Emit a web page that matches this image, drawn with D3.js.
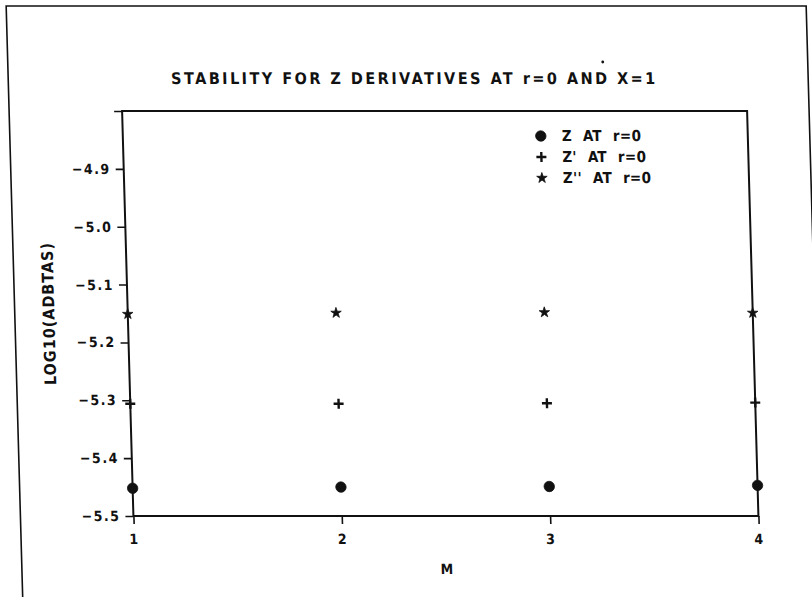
<!DOCTYPE html>
<html>
<head>
<meta charset="utf-8">
<script src="https://cdn.jsdelivr.net/npm/d3@7"></script>
<style>
  body { margin: 0; background: #fff; }
  svg { display: block; }
  text { font-family: "Liberation Sans Narrow", "DejaVu Sans Condensed", "Liberation Sans", sans-serif; fill: #111; }
</style>
</head>
<body>
<div id="vis"></div>
<script>
// data
var mValues = [1, 2, 3, 4];
var zAt0 = [-5.452, -5.450, -5.449, -5.447];
var zpAt0 = [-5.306, -5.306, -5.305, -5.304];
var zppAt0 = [-5.151, -5.149, -5.148, -5.149];

var seriesNames = ["Z AT r=0", "Z' AT r=0", "Z'' AT r=0"];
var seriesTypes = ["circle", "plus", "star"];
var yTicks = [-4.8, -4.9, -5.0, -5.1, -5.2, -5.3, -5.4, -5.5];
var xTicks = [1, 2, 3, 4];

var width = 812;
var height = 597;
// plot box (before the scan skew is applied)
var margin = { top: 111, left: 119, bottom: 81, right: 68 };

var svg = d3.select('#vis').append('svg')
    .attr('width', width)
    .attr('height', height);

// the scanned page leans a little, so shear everything
var g = svg.append('g')
    .attr('transform', 'skewX(1.6)');

var x = d3.scaleLinear()
    .domain([1, 4])
    .range([margin.left, width - margin.right]);

var y = d3.scaleLinear()
    .domain([-5.5, -4.8])
    .range([height - margin.bottom, margin.top]);

// outer page frame
g.append('path')
    .attr('d', 'M6,640V6H806V640')
    .attr('fill', 'none')
    .attr('stroke', '#111')
    .attr('stroke-width', 1.6);

// stray speck on the scan
g.append('circle')
    .attr('cx', 601)
    .attr('cy', 62)
    .attr('r', 1.4)
    .attr('fill', '#111');

// title
g.append('text')
    .attr('x', 411)
    .attr('y', 84)
    .attr('text-anchor', 'middle')
    .attr('textLength', 484)
    .attr('lengthAdjust', 'spacing')
    .style('font-size', '16px')
    .style('font-weight', 'bold')
    .text('STABILITY FOR Z DERIVATIVES AT r=0 AND X=1');

// plot box
g.append('rect')
    .attr('x', x(1))
    .attr('y', y(-4.8))
    .attr('width', x(4) - x(1))
    .attr('height', y(-5.5) - y(-4.8))
    .attr('fill', 'none')
    .attr('stroke', '#111')
    .attr('stroke-width', 2);

var fmt = function (d) {
    if (d === -4.8) return '';
    return d3.format('.1f')(d).replace('-', '\u2212');
};

var yAxis = g.append('g')
    .attr('class', 'y axis')
    .attr('transform', 'translate(' + x(1) + ',0)')
    .call(d3.axisLeft(y).tickValues(yTicks).tickFormat(fmt).tickSize(8).tickPadding(5));

var xAxis = g.append('g')
    .attr('class', 'x axis')
    .attr('transform', 'translate(0,' + y(-5.5) + ')')
    .call(d3.axisBottom(x).tickValues(xTicks).tickFormat(d3.format('d')).tickSize(8).tickPadding(10));

g.selectAll('.axis .domain').remove();
g.selectAll('.axis line')
    .attr('stroke', '#111')
    .attr('stroke-width', 1.6);
g.selectAll('.axis text')
    .style('font-size', '14px')
    .style('font-weight', 'bold')
    .style('letter-spacing', '1.5px')
    .attr('fill', '#111');

// axis titles
g.append('text')
    .attr('transform', 'translate(40,314) rotate(-90)')
    .attr('text-anchor', 'middle')
    .attr('dy', '0.35em')
    .attr('textLength', 142)
    .attr('lengthAdjust', 'spacing')
    .style('font-size', '16px')
    .style('font-weight', 'bold')
    .text('LOG10(ADBTAS)');

g.append('text')
    .attr('x', 431)
    .attr('y', 574)
    .attr('text-anchor', 'middle')
    .style('font-size', '14px')
    .style('font-weight', 'bold')
    .text('M');

// marker drawing
function markerPath(type) {
    if (type === 'circle') return d3.symbol().type(d3.symbolCircle).size(85)();
    if (type === 'star') return d3.symbol().type(d3.symbolStar).size(34)();
    return 'M-5,0H5M0,-5V5';
}

function drawMarks(sel, type) {
    sel.attr('d', markerPath(type))
        .attr('fill', type === 'plus' ? 'none' : '#111')
        .attr('stroke', '#111')
        .attr('stroke-width', type === 'plus' ? 2.4 : 0.8);
}

var allSeries = [zAt0, zpAt0, zppAt0];

allSeries.forEach(function (vals, k) {
    g.append('g')
        .attr('class', 'series s' + k)
        .selectAll('path')
        .data(mValues)
        .enter().append('path')
        .attr('transform', function (d, i) {
            return 'translate(' + x(d) + ',' + y(vals[i]) + ')';
        })
        .call(drawMarks, seriesTypes[k]);
});

// legend
var legend = g.append('g')
    .attr('class', 'legend')
    .attr('transform', 'translate(537,136)');

var rows = legend.selectAll('g')
    .data(seriesNames)
    .enter().append('g')
    .attr('transform', function (d, i) { return 'translate(0,' + (i * 21) + ')'; });

rows.append('path')
    .each(function (d, i) {
        d3.select(this).call(drawMarks, seriesTypes[i]);
    });

rows.append('text')
    .attr('x', 21)
    .attr('dy', '0.36em')
    .style('font-size', '15px')
    .style('font-weight', 'bold')
    .style('letter-spacing', '0.3px')
    .style('word-spacing', '6px')
    .text(function (d) { return d; });
</script>
</body>
</html>
